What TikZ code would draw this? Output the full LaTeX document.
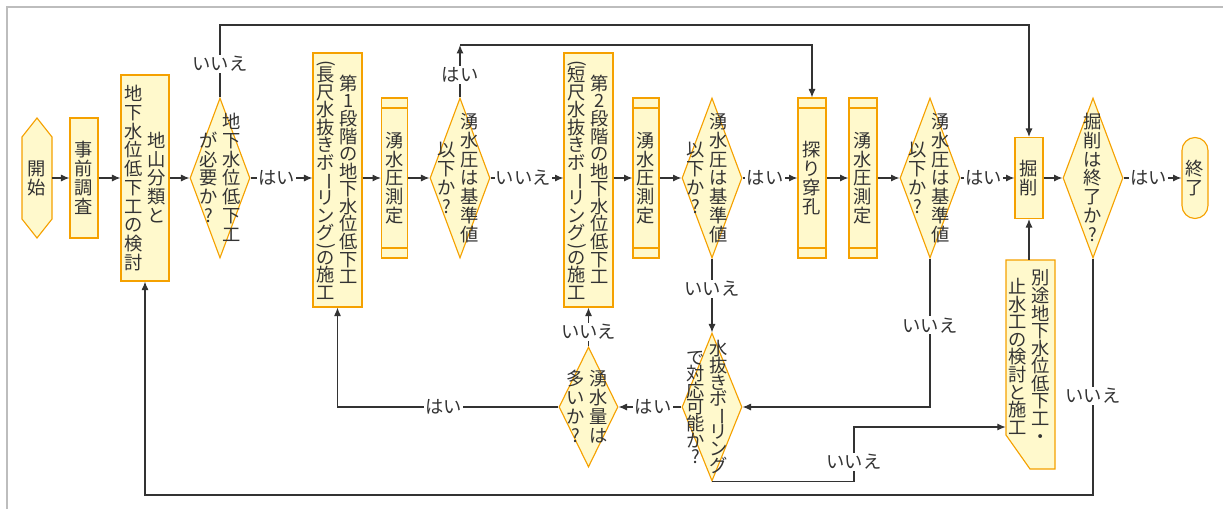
\documentclass[tikz,border=0pt]{standalone}
\usepackage{fontspec}
\setmainfont{Noto Sans CJK JP}
\usepackage{graphicx}
\usetikzlibrary{shapes.geometric,arrows.meta}

\definecolor{boxfill}{HTML}{FFF9CC}
\definecolor{boxline}{HTML}{F5A100}
\definecolor{ink}{HTML}{333333}
\definecolor{framegray}{HTML}{BDBDBD}

% vertical (tategaki) text: one slot per character
\ExplSyntaxOn
\dim_new:N \l_tate_pitch_dim
\dim_set:Nn \l_tate_pitch_dim { 13.3pt }
\tl_new:N \l_tate_tl
\cs_new_protected:Npn \tate_slot:nn #1#2
  {
    \vbox to #1
      { \vss \hbox to 1em { \hss \vrule height 0.88em depth 0.12em width 0pt #2 \hss } \vss }
  }
\NewDocumentCommand \tate { m }
  {
    \tl_clear:N \l_tate_tl
    \tl_map_inline:nn {#1}
      {
        \str_case:nnF {##1}
          {
            { ( } { \tl_put_right:Nn \l_tate_tl { \tate_slot:nn { 0.4\l_tate_pitch_dim } { \rotatebox[origin=c]{-90}{(} } } }
            { ) } { \tl_put_right:Nn \l_tate_tl { \tate_slot:nn { 0.4\l_tate_pitch_dim } { \rotatebox[origin=c]{-90}{)} } } }
            { ー } { \tl_put_right:Nn \l_tate_tl { \tate_slot:nn { \l_tate_pitch_dim } { \rotatebox[origin=c]{-90}{ー} } } }
          }
          { \tl_put_right:Nn \l_tate_tl { \tate_slot:nn { \l_tate_pitch_dim } {##1} } }
      }
    \ensuremath { \vcenter { \offinterlineskip \l_tate_tl } }
  }
\NewDocumentCommand \tatepitch { m } { \dim_set:Nn \l_tate_pitch_dim {#1} }
\ExplSyntaxOff
\newcommand\tatetwo[2]{\tate{#2}\hspace{3.4pt}\tate{#1}}

\begin{document}
\begin{tikzpicture}[x=0.025cm, y=-0.025cm, font=\fontsize{13pt}{15pt}\selectfont,
    >={Latex[length=6pt,width=5pt]}]
    \tikzset{box/.style={draw=boxline, fill=boxfill, line width=0.8pt, inner sep=0pt, text=ink},
      predef/.style={box, path picture={
          \draw[boxline, line width=0.8pt] ([yshift=-0.25cm]path picture bounding box.north west) -- ([yshift=-0.25cm]path picture bounding box.north east);
          \draw[boxline, line width=0.8pt] ([yshift=0.25cm]path picture bounding box.south west) -- ([yshift=0.25cm]path picture bounding box.south east);}},
      decision/.style={box, diamond},
      txt/.style={inner sep=0pt, text=ink},
      flow/.style={draw=ink, line width=0.8pt, ->},
      lbl/.style={fill=white, inner sep=1pt, text=ink}}
    \useasboundingbox (0,0) rectangle (1223,509);
    \draw[framegray, line width=1.2pt] (7,509) -- (7,7) -- (1223,7);

    % top row
    \filldraw[box] (37,118) -- (52,137) -- (52,219) -- (37,238) -- (22,219) -- (22,137) -- cycle;
    \node[txt, minimum width=0.75cm, minimum height=3cm] (start) at (37,178) {\tate{開始}};
    \node[box, minimum width=0.7cm, minimum height=3cm] (survey) at (84,178) {\tate{事前調査}};
    \node[box, minimum width=1.2cm, minimum height=5.15cm] (plan) at (145,178) {\tatetwo{地山分類と}{地下水位低下工の検討}};
    \node[decision, minimum width=1.5cm, minimum height=4cm] (needq) at (220,178) {};
    \node[txt] (needq-t) at (220,178) {\tatetwo{地下水位低下工}{が必要か?}};
    \node[box, minimum width=1.225cm, minimum height=6.35cm] (stage1) at (337.5,180) {\tatepitch{12.5pt}\tatetwo{第1段階の地下水位低下工}{(長尺水抜きボーリング)の施工}};
    \node[predef, minimum width=0.65cm, minimum height=4cm] (meas1) at (394.5,178) {\tate{湧水圧測定}};
    \node[decision, minimum width=1.5cm, minimum height=4cm] (pressq1) at (460,178) {};
    \node[txt] (pressq1-t) at (458.5,178) {\tatetwo{湧水圧は基準値}{以下か?}};
    \node[box, minimum width=1.225cm, minimum height=6.35cm] (stage2) at (588.5,180) {\tatepitch{12.5pt}\tatetwo{第2段階の地下水位低下工}{(短尺水抜きボーリング)の施工}};
    \node[predef, minimum width=0.65cm, minimum height=4cm] (meas2) at (646,178) {\tate{湧水圧測定}};
    \node[decision, minimum width=1.5cm, minimum height=4cm] (pressq2) at (712,178) {};
    \node[txt] (pressq2-t) at (707,178) {\tatetwo{湧水圧は基準値}{以下か?}};
    \node[predef, minimum width=0.7cm, minimum height=4cm] (probe) at (812,178) {\tate{探り穿孔}};
    \node[predef, minimum width=0.7cm, minimum height=4cm] (meas3) at (863,178) {\tate{湧水圧測定}};
    \node[decision, minimum width=1.5cm, minimum height=4cm] (pressq3) at (930,178) {};
    \node[txt] (pressq3-t) at (929,178) {\tatetwo{湧水圧は基準値}{以下か?}};
    \node[box, minimum width=0.7cm, minimum height=2.025cm] (excav) at (1029,178) {\tate{掘削}};
    \node[decision, minimum width=1.5cm, minimum height=4cm] (doneq) at (1093,178) {};
    \node[txt] (doneq-t) at (1093,178) {\tate{掘削は終了か?}};
    \node[box, rounded corners=0.325cm, minimum width=0.65cm, minimum height=2.025cm] (finish) at (1195,178) {\tate{終了}};

    % lower row
    \node[decision, minimum width=1.5cm, minimum height=3.7cm] (drainq) at (712,407) {};
    \node[txt] (drainq-t) at (707.5,407) {\tatepitch{11.8pt}\tatetwo{水抜きボーリング}{で対応可能か?}};
    \node[decision, minimum width=1.475cm, minimum height=3cm] (flowq) at (588.5,407) {};
    \node[txt] (flowq-t) at (587.5,407) {\tatetwo{湧水量は}{多いか?}};
    \filldraw[box] (1006,260) -- (1055,260) -- (1055,469) -- (1030,469) -- (1006,435) -- cycle;
    \node[txt, minimum width=1.225cm, minimum height=5.225cm] (extra) at (1030.5,364.5) {};
    \node[txt] (extra-t) at (1029.5,357) {\tatepitch{12.5pt}\tatetwo{別途地下水位低下工・}{止水工の検討と施工}};

    \coordinate (top1) at (0,25);
    \coordinate (top2) at (0,45);
    \coordinate (bottom) at (0,495);
    \coordinate (jog) at (854,427);

    % main flow
    \draw[flow] (start) -- (survey);
    \draw[flow] (survey) -- (plan);
    \draw[flow] (plan) -- (needq);
    \draw[flow] (needq.east) -- node[lbl, pos=.42] {はい} (stage1.west |- needq.east);
    \draw[flow] (stage1.east |- meas1) -- (meas1);
    \draw[flow] (meas1) -- (pressq1);
    \draw[flow] (pressq1.east) -- node[lbl, pos=.45] {いいえ} (stage2.west |- pressq1.east);
    \draw[flow] (stage2.east |- meas2) -- (meas2);
    \draw[flow] (meas2) -- (pressq2);
    \draw[flow] (pressq2) -- node[lbl, pos=.41] {はい} (probe);
    \draw[flow] (probe) -- (meas3);
    \draw[flow] (meas3) -- (pressq3);
    \draw[flow] (pressq3) -- node[lbl, pos=.43] {はい} (excav);
    \draw[flow] (excav) -- (doneq);
    \draw[flow] (doneq) -- node[lbl, pos=.43] {はい} (finish);

    % branches
    \draw[flow] (needq.north) -- node[lbl, pos=.46] {いいえ} (needq.north |- top1) -| (excav.north);
    \draw[flow] (pressq1.north) -- node[lbl, pos=.43] {はい} (pressq1.north |- top2);
    \draw[flow] (pressq1.north |- top2) -| (probe.north);
    \draw[flow] (pressq2.south) -- node[lbl, pos=.41] {いいえ} (drainq.north);
    \draw[flow] (pressq3.south) |- node[lbl, pos=.225] {いいえ} (drainq.east);
    \draw[flow] (drainq.west) -- node[lbl, pos=.45] {はい} (flowq.east);
    \draw[flow] (flowq.north) -- node[lbl, pos=.37] {いいえ} (stage2.south);
    \draw[flow] (flowq.west) -| node[lbl, pos=.26] {はい} (stage1.south);
    \draw[flow] (drainq.south) -| node[lbl, pos=.68] {いいえ} (jog) -- (jog -| extra.west);
    \draw[flow] (excav.south |- extra.north) -- (excav.south);
    \draw[flow] (doneq.south) -- node[lbl, pos=.58] {いいえ} (doneq.south |- bottom) -| (plan.south);
\end{tikzpicture}
\end{document}
